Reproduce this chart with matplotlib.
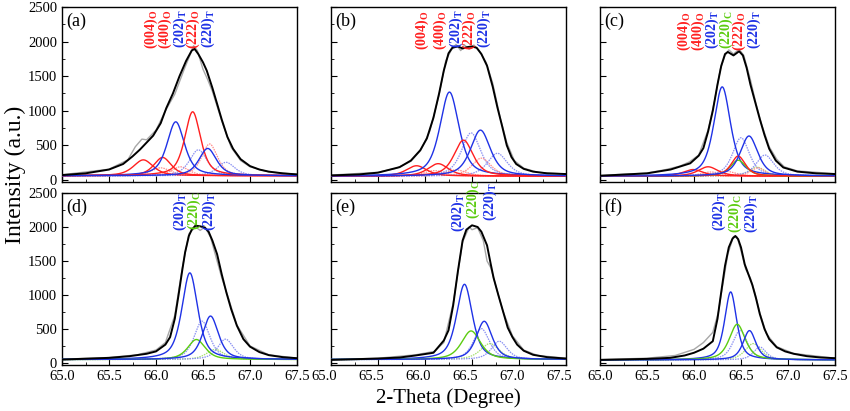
import numpy as np
import matplotlib
matplotlib.use("Agg")
import matplotlib.pyplot as plt
import matplotlib.transforms as mtransforms
from matplotlib.ticker import MultipleLocator

plt.rcParams['font.family'] = ['Liberation Serif', 'DejaVu Serif']
plt.rcParams['mathtext.fontset'] = 'custom'
plt.rcParams['mathtext.rm'] = 'Liberation Serif'
plt.rcParams['mathtext.bf'] = 'Liberation Serif:bold'

# ---------------- data ----------------
X_MIN, X_MAX = 65.0, 67.5
PANEL_TAGS = ['(a)', '(b)', '(c)', '(d)', '(e)', '(f)']
BASELINES = [60, 55, 55, 50, 50, 45]
ETA = 0.6

# measured profiles (grey) and fitted envelopes (black): 2-theta, intensity
A_ENV_X = [65.0, 65.25, 65.5, 65.65, 65.75, 65.83, 65.9, 65.97, 66.05, 66.11, 66.18, 66.25, 66.32, 66.38, 66.41,
           66.45, 66.5, 66.54, 66.6, 66.65, 66.7, 66.76, 66.82, 66.9, 67.0, 67.1, 67.2, 67.35, 67.5]
A_ENV_Y = [70, 95, 150, 230, 340, 440, 540, 640, 820, 1040, 1250, 1500, 1720, 1870, 1895,
           1820, 1700, 1580, 1330, 1100, 870, 620, 450, 300, 200, 150, 120, 95, 80]
A_RAW_X = [65.0, 65.5, 65.7, 65.78, 65.85, 65.9, 66.0, 66.1, 66.2, 66.3, 66.36, 66.4, 66.44, 66.5, 66.55,
           66.6, 66.7, 66.8, 66.9, 67.0, 67.2, 67.5]
A_RAW_Y = [75, 155, 290, 480, 590, 580, 720, 1000, 1240, 1600, 1800, 1940, 1870, 1600, 1450,
           1280, 850, 470, 280, 190, 115, 80]

B_ENV_X = [65.0, 65.3, 65.5, 65.73, 65.85, 65.95, 66.02, 66.09, 66.15, 66.2, 66.25, 66.29, 66.35, 66.4, 66.45,
           66.5, 66.55, 66.6, 66.66, 66.72, 66.77, 66.82, 66.87, 66.92, 66.97, 67.05, 67.15, 67.3, 67.5]
B_ENV_Y = [65, 80, 105, 185, 280, 430, 600, 900, 1250, 1580, 1830, 1910, 1930, 1900, 1920,
           1930, 1910, 1820, 1650, 1350, 1050, 780, 500, 330, 230, 160, 120, 95, 85]
B_RAW_X = [65.0, 65.5, 65.7, 65.85, 65.95, 66.05, 66.15, 66.22, 66.28, 66.33, 66.38, 66.42, 66.47, 66.52,
           66.58, 66.65, 66.72, 66.8, 66.87, 66.95, 67.05, 67.2, 67.5]
B_RAW_Y = [70, 110, 170, 270, 420, 700, 1230, 1720, 1880, 1960, 1870, 1950, 1890, 1950,
           1860, 1700, 1400, 900, 540, 280, 170, 110, 85]

C_ENV_X = [65.0, 65.5, 65.75, 65.96, 66.05, 66.1, 66.15, 66.2, 66.25, 66.29, 66.33, 66.36, 66.42, 66.48, 66.52,
           66.56, 66.6, 66.65, 66.7, 66.75, 66.8, 66.87, 66.95, 67.1, 67.3, 67.5]
C_ENV_Y = [60, 95, 150, 240, 350, 460, 700, 1000, 1380, 1650, 1820, 1850, 1800, 1860, 1800,
           1620, 1380, 1130, 880, 650, 450, 280, 180, 120, 95, 85]
C_RAW_X = [65.0, 65.5, 65.7, 65.85, 65.95, 66.05, 66.15, 66.22, 66.28, 66.33, 66.37, 66.42, 66.48, 66.53,
           66.6, 66.66, 66.72, 66.8, 66.88, 66.96, 67.1, 67.5]
C_RAW_Y = [65, 100, 150, 200, 260, 360, 720, 1150, 1600, 1800, 1880, 1820, 1890, 1800,
           1450, 1100, 800, 480, 300, 190, 130, 90]

D_ENV_X = [65.0, 65.5, 65.72, 65.9, 66.0, 66.1, 66.15, 66.2, 66.24, 66.28, 66.31, 66.35, 66.38, 66.42, 66.47,
           66.52, 66.56, 66.6, 66.65, 66.7, 66.75, 66.8, 66.86, 66.93, 67.0, 67.1, 67.2, 67.35, 67.5]
D_ENV_Y = [50, 75, 100, 135, 170, 270, 380, 650, 1000, 1370, 1630, 1870, 1960, 2020, 2010,
           1990, 1930, 1800, 1600, 1300, 1030, 790, 550, 350, 240, 160, 115, 85, 70]
D_RAW_X = [65.0, 65.5, 65.8, 66.0, 66.1, 66.2, 66.28, 66.35, 66.42, 66.47, 66.52, 66.58, 66.65, 66.7,
           66.76, 66.86, 67.0, 67.2, 67.5]
D_RAW_Y = [55, 80, 120, 190, 300, 700, 1400, 1900, 2000, 1950, 2000, 1850, 1500, 1250,
           1000, 560, 250, 120, 70]

E_ENV_X = [65.0, 65.5, 65.73, 65.9, 66.09, 66.2, 66.25, 66.3, 66.35, 66.4, 66.44, 66.5, 66.56, 66.6, 66.66,
           66.7, 66.73, 66.78, 66.83, 66.88, 66.93, 66.98, 67.05, 67.15, 67.3, 67.5]
E_ENV_Y = [45, 65, 80, 110, 150, 330, 480, 850, 1350, 1800, 1960, 2025, 2000, 1930, 1730,
           1450, 1250, 1000, 760, 520, 380, 270, 180, 120, 85, 65]
E_RAW_X = [65.0, 65.5, 65.9, 66.1, 66.2, 66.3, 66.4, 66.47, 66.5, 66.56, 66.62, 66.66, 66.7, 66.75,
           66.83, 66.93, 67.05, 67.2, 67.5]
E_RAW_Y = [50, 70, 120, 170, 300, 880, 1780, 2000, 1960, 1990, 1800, 1500, 1400, 1150,
           760, 400, 190, 110, 70]

F_ENV_X = [65.0, 65.5, 65.745, 65.9, 66.0, 66.1, 66.2, 66.25, 66.28, 66.33, 66.37, 66.41, 66.44, 66.47, 66.5,
           66.54, 66.58, 66.62, 66.66, 66.7, 66.75, 66.8, 66.88, 66.97, 67.06, 67.2, 67.35, 67.5]
F_ENV_Y = [45, 60, 75, 110, 150, 210, 320, 650, 950, 1430, 1700, 1830, 1868, 1820, 1700,
           1450, 1300, 1150, 950, 720, 500, 350, 230, 170, 135, 100, 80, 70]
F_RAW_X = [65.0, 65.5, 65.8, 66.0, 66.1, 66.2, 66.26, 66.3, 66.36, 66.42, 66.46, 66.5, 66.55, 66.6,
           66.65, 66.7, 66.77, 66.88, 67.06, 67.5]
F_RAW_Y = [50, 70, 110, 200, 300, 450, 750, 1100, 1600, 1860, 1850, 1650, 1380, 1250,
           1020, 740, 430, 240, 140, 70]

# fitted components: centre (deg), height above baseline, FWHM (deg), colour key, dotted (K-alpha2)?
A_CENTERS = [65.865, 66.07, 66.21, 66.39, 66.55, 66.05, 66.26, 66.45, 66.57, 66.745]
A_HEIGHTS = [230, 265, 780, 925, 395, 115, 130, 375, 460, 195]
A_WIDTHS  = [0.25, 0.22, 0.22, 0.2, 0.22, 0.25, 0.22, 0.22, 0.2, 0.22]
A_COLORS  = ['r', 'r', 'b', 'r', 'b', 'r', 'r', 'b', 'r', 'b']
A_DOTTED  = [0, 0, 0, 0, 0, 1, 1, 1, 1, 1]

B_CENTERS = [65.91, 66.14, 66.26, 66.41, 66.59, 66.10, 66.33, 66.49, 66.60, 66.77]
B_HEIGHTS = [150, 180, 1215, 520, 665, 80, 90, 625, 260, 330]
B_WIDTHS  = [0.26, 0.26, 0.24, 0.24, 0.25, 0.26, 0.26, 0.24, 0.24, 0.25]
B_COLORS  = ['r', 'r', 'b', 'r', 'b', 'r', 'r', 'b', 'r', 'b']
B_DOTTED  = [0, 0, 0, 0, 0, 1, 1, 1, 1, 1]

C_CENTERS = [65.99, 66.15, 66.30, 66.47, 66.47, 66.585, 66.18, 66.34, 66.50, 66.67, 66.68, 66.755]
C_HEIGHTS = [95, 135, 1290, 230, 290, 580, 60, 70, 555, 130, 120, 305]
C_WIDTHS  = [0.25, 0.25, 0.21, 0.2, 0.18, 0.22, 0.25, 0.25, 0.21, 0.2, 0.18, 0.22]
C_COLORS  = ['r', 'r', 'b', 'g', 'r', 'b', 'r', 'r', 'b', 'g', 'r', 'b']
C_DOTTED  = [0, 0, 0, 0, 0, 0, 1, 1, 1, 1, 1, 1]

D_CENTERS = [66.36, 66.43, 66.58, 66.49, 66.63, 66.74]
D_HEIGHTS = [1275, 295, 640, 565, 150, 300]
D_WIDTHS  = [0.2, 0.22, 0.2, 0.2, 0.22, 0.2]
D_COLORS  = ['b', 'g', 'b', 'b', 'g', 'b']
D_DOTTED  = [0, 0, 0, 1, 1, 1]

E_CENTERS = [66.42, 66.49, 66.63, 66.60, 66.69, 66.79]
E_HEIGHTS = [1107, 421, 563, 455, 235, 270]
E_WIDTHS  = [0.2, 0.24, 0.2, 0.2, 0.24, 0.2]
E_COLORS  = ['b', 'g', 'b', 'b', 'g', 'b']
E_DOTTED  = [0, 0, 0, 1, 1, 1]

F_CENTERS = [66.39, 66.46, 66.59, 66.49, 66.63, 66.70]
F_HEIGHTS = [1000, 524, 431, 435, 240, 190]
F_WIDTHS  = [0.15, 0.2, 0.16, 0.18, 0.2, 0.16]
F_COLORS  = ['b', 'g', 'b', 'b', 'g', 'b']
F_DOTTED  = [0, 0, 0, 1, 1, 1]

# peak labels: text, phase subscript, x (deg), top (a.u.), colour key
A_LAB_TEXT = ['(004)', '(400)', '(202)', '(222)', '(220)']
A_LAB_SUB  = ['O', 'O', 'T', 'O', 'T']
A_LAB_X    = [65.95, 66.10, 66.255, 66.40, 66.56]
A_LAB_TOP  = [2460, 2460, 2470, 2460, 2470]
A_LAB_COL  = ['r', 'r', 'b', 'r', 'b']

B_LAB_TEXT = ['(004)', '(400)', '(202)', '(222)', '(220)']
B_LAB_SUB  = ['O', 'O', 'T', 'O', 'T']
B_LAB_X    = [65.97, 66.16, 66.33, 66.47, 66.63]
B_LAB_TOP  = [2450, 2450, 2470, 2450, 2470]
B_LAB_COL  = ['r', 'r', 'b', 'r', 'b']

C_LAB_TEXT = ['(004)', '(400)', '(202)', '(220)', '(222)', '(220)']
C_LAB_SUB  = ['O', 'O', 'T', 'C', 'O', 'T']
C_LAB_X    = [65.90, 66.05, 66.19, 66.34, 66.48, 66.64]
C_LAB_TOP  = [2430, 2430, 2450, 2450, 2430, 2450]
C_LAB_COL  = ['r', 'r', 'b', 'g', 'r', 'b']

D_LAB_TEXT = ['(202)', '(220)', '(220)']
D_LAB_SUB  = ['T', 'C', 'T']
D_LAB_X    = [66.255, 66.41, 66.57]
D_LAB_TOP  = [2515, 2515, 2515]
D_LAB_COL  = ['b', 'g', 'b']

E_LAB_TEXT = ['(202)', '(220)', '(220)']
E_LAB_SUB  = ['T', 'C', 'T']
E_LAB_X    = [66.355, 66.51, 66.69]
E_LAB_TOP  = [2490, 2690, 2660]
E_LAB_COL  = ['b', 'g', 'b']

F_LAB_TEXT = ['(202)', '(220)', '(220)']
F_LAB_SUB  = ['T', 'C', 'T']
F_LAB_X    = [66.27, 66.44, 66.61]
F_LAB_TOP  = [2510, 2480, 2480]
F_LAB_COL  = ['b', 'g', 'b']

X_TICKS = [65.0, 65.5, 66.0, 66.5, 67.0, 67.5]
Y_TICKS = [0, 500, 1000, 1500, 2000, 2500]

SOLID_COL = {'r': '#ff1f1f', 'b': '#1f32e6', 'g': '#5ccc10'}
DOT_COL = {'r': '#ff8c8c', 'b': '#8a90f2', 'g': '#a6e070'}

PANELS = [
    (A_ENV_X, A_ENV_Y, A_RAW_X, A_RAW_Y, A_CENTERS, A_HEIGHTS, A_WIDTHS, A_COLORS, A_DOTTED,
     A_LAB_TEXT, A_LAB_SUB, A_LAB_X, A_LAB_TOP, A_LAB_COL),
    (B_ENV_X, B_ENV_Y, B_RAW_X, B_RAW_Y, B_CENTERS, B_HEIGHTS, B_WIDTHS, B_COLORS, B_DOTTED,
     B_LAB_TEXT, B_LAB_SUB, B_LAB_X, B_LAB_TOP, B_LAB_COL),
    (C_ENV_X, C_ENV_Y, C_RAW_X, C_RAW_Y, C_CENTERS, C_HEIGHTS, C_WIDTHS, C_COLORS, C_DOTTED,
     C_LAB_TEXT, C_LAB_SUB, C_LAB_X, C_LAB_TOP, C_LAB_COL),
    (D_ENV_X, D_ENV_Y, D_RAW_X, D_RAW_Y, D_CENTERS, D_HEIGHTS, D_WIDTHS, D_COLORS, D_DOTTED,
     D_LAB_TEXT, D_LAB_SUB, D_LAB_X, D_LAB_TOP, D_LAB_COL),
    (E_ENV_X, E_ENV_Y, E_RAW_X, E_RAW_Y, E_CENTERS, E_HEIGHTS, E_WIDTHS, E_COLORS, E_DOTTED,
     E_LAB_TEXT, E_LAB_SUB, E_LAB_X, E_LAB_TOP, E_LAB_COL),
    (F_ENV_X, F_ENV_Y, F_RAW_X, F_RAW_Y, F_CENTERS, F_HEIGHTS, F_WIDTHS, F_COLORS, F_DOTTED,
     F_LAB_TEXT, F_LAB_SUB, F_LAB_X, F_LAB_TOP, F_LAB_COL),
]


def pseudo_voigt(x, c, h, w, eta=ETA):
    u = (x - c) / (w / 2.0)
    return h * (eta / (1.0 + u ** 2) + (1.0 - eta) * np.exp(-np.log(2.0) * u ** 2))


# ---------------- figure ----------------
fig = plt.figure(figsize=(8.5, 4.11), dpi=100)
W, H = 850.0, 411.0
col_left = [62, 331, 600]
row_top = [7, 193]
row_bot = [182, 365]
aw = 235
label_shift = [0, 0, 0, 0, -7, 0]   # bottom tick labels of (e) sit a little left

x = np.linspace(X_MIN, X_MAX, 1200)

for i, p in enumerate(PANELS):
    (env_x, env_y, raw_x, raw_y, cen, hei, wid, cols, dots,
     ltxt, lsub, lx, ltop, lcol) = p
    r, c = divmod(i, 3)
    ax = fig.add_axes([col_left[c] / W, 1 - row_bot[r] / H, aw / W, (row_bot[r] - row_top[r]) / H])
    base = BASELINES[i]

    ax.plot(raw_x, raw_y, color='#a8a8a8', lw=1.0, zorder=1)
    for k in range(len(cen)):
        if dots[k]:
            y = pseudo_voigt(x, cen[k], hei[k], wid[k]) + base
            ax.plot(x, y, color=DOT_COL[cols[k]], lw=0.9, ls=(0, (1.2, 0.8)), zorder=2)
    for k in range(len(cen)):
        if not dots[k]:
            y = pseudo_voigt(x, cen[k], hei[k], wid[k]) + base
            ax.plot(x, y, color=SOLID_COL[cols[k]], lw=1.0, zorder=3)
    ax.plot(env_x, env_y, color='black', lw=1.4, zorder=4, solid_joinstyle='round')

    for k in range(len(ltxt)):
        ax.text(lx[k], ltop[k], ltxt[k] + r'$_\mathbf{' + lsub[k] + '}$',
                rotation=90, ha='center', va='top', color=SOLID_COL[lcol[k]],
                fontsize=10, fontweight='bold', clip_on=False, zorder=6)

    ax.text(65.05, 2290, PANEL_TAGS[i], fontsize=13, ha='left', va='center')

    ax.set_xlim(X_MIN, X_MAX)
    ax.set_ylim(-30, 2500)
    ax.set_xticks(X_TICKS)
    ax.set_yticks(Y_TICKS)
    ax.xaxis.set_minor_locator(MultipleLocator(0.25))
    ax.yaxis.set_minor_locator(MultipleLocator(250))
    ax.tick_params(which='both', direction='in', top=False, right=False, labelsize=10.5)
    ax.tick_params(which='major', length=4, width=0.8)
    ax.tick_params(which='minor', length=2.5, width=0.6)
    if r == 0:
        ax.tick_params(labelbottom=False)
    else:
        ax.set_xticklabels(['%.1f' % t for t in X_TICKS])
        if label_shift[i]:
            off = mtransforms.ScaledTranslation(label_shift[i] / 100.0, 0, fig.dpi_scale_trans)
            for lbl in ax.get_xticklabels():
                lbl.set_transform(lbl.get_transform() + off)
    if c != 0:
        ax.tick_params(labelleft=False)
    for s in ax.spines.values():
        s.set_linewidth(1.0)

fig.text(15 / W, 1 - 175 / H, 'Intensity (a.u.)', rotation=90, ha='center', va='center', fontsize=17)
fig.text(448 / W, 1 - 398 / H, '2-Theta (Degree)', ha='center', va='center', fontsize=15)

fig.savefig('out.png', dpi=100)
